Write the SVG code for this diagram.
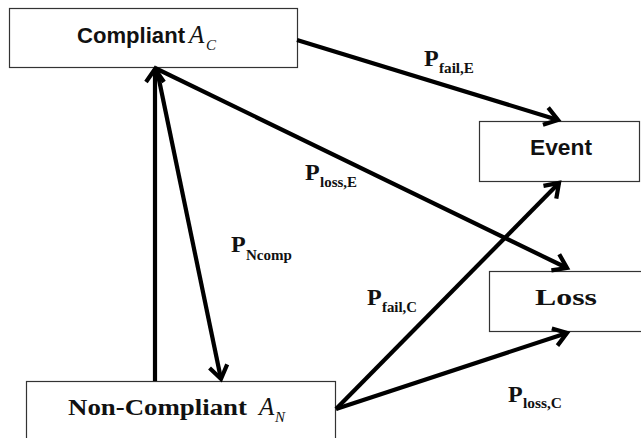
<svg xmlns="http://www.w3.org/2000/svg" width="641" height="438" viewBox="0 0 641 438">
  <defs>
    <marker id="head" viewBox="-18 -13 22 26" refX="0" refY="0" markerWidth="22" markerHeight="26" markerUnits="userSpaceOnUse" orient="auto">
      <path d="M-13,-9 L0,0 L-13,9" fill="none" stroke="#000" stroke-width="4.2" stroke-linejoin="miter"/>
    </marker>
    <style>
      .box { fill: #fff; stroke: #333; stroke-width: 1.2; }
      .edge { fill: none; stroke: #000; stroke-width: 4.2; marker-end: url(#head); }
      .sans { font-family: "Liberation Sans", Arial, sans-serif; font-weight: bold; font-size: 22px; fill: #111; }
      .serif { font-family: "Liberation Serif", "Times New Roman", serif; font-weight: bold; font-size: 24px; fill: #111; }
      .ital { font-family: "Liberation Serif", "Times New Roman", serif; font-style: italic; fill: #111; }
      .p { font-family: "Liberation Serif", "Times New Roman", serif; font-weight: bold; font-size: 24px; fill: #111; }
      .sub { font-family: "Liberation Serif", "Times New Roman", serif; font-weight: bold; font-size: 14px; fill: #111; }
    </style>
  </defs>

  <g id="compliant">
    <rect class="box" x="9.5" y="8.5" width="288" height="59"/>
    <text class="sans" x="77" y="43" textLength="108" lengthAdjust="spacingAndGlyphs">Compliant</text>
    <text class="ital" x="189" y="43" font-size="25">A</text>
    <text class="ital" x="206" y="50" font-size="15">C</text>
  </g>

  <g id="event">
    <rect class="box" x="479.5" y="121.5" width="160" height="60"/>
    <text class="sans" x="530" y="155" textLength="62" lengthAdjust="spacingAndGlyphs">Event</text>
  </g>

  <g id="loss">
    <rect class="box" x="489.5" y="271.5" width="160" height="60"/>
    <text class="serif" x="535" y="305" textLength="62" lengthAdjust="spacingAndGlyphs">Loss</text>
  </g>

  <g id="non-compliant">
    <rect class="box" x="26.5" y="381.5" width="309" height="70"/>
    <text class="serif" x="68" y="415" textLength="179" lengthAdjust="spacingAndGlyphs">Non-Compliant</text>
    <text class="ital" x="259" y="415" font-size="25">A</text>
    <text class="ital" x="275" y="422" font-size="15">N</text>
  </g>

  <g id="connectors">
    <line class="edge" x1="297" y1="40" x2="558" y2="120"/>
    <line class="edge" x1="155" y1="68" x2="567" y2="268"/>
    <line class="edge" x1="155" y1="381" x2="155" y2="69"/>
    <line class="edge" x1="157" y1="70" x2="221" y2="379"/>
    <line class="edge" x1="336" y1="409" x2="559" y2="183"/>
    <line class="edge" x1="336" y1="409" x2="567" y2="333"/>
  </g>

  <g id="labels">
    <text class="p" x="424" y="66">P</text>
    <text class="sub" x="439" y="73" textLength="35" lengthAdjust="spacingAndGlyphs">fail,E</text>

    <text class="p" x="305" y="180">P</text>
    <text class="sub" x="320" y="187" textLength="37" lengthAdjust="spacingAndGlyphs">loss,E</text>

    <text class="p" x="231" y="252">P</text>
    <text class="sub" x="246" y="260" textLength="46" lengthAdjust="spacingAndGlyphs">Ncomp</text>

    <text class="p" x="367" y="305">P</text>
    <text class="sub" x="382" y="312" textLength="35" lengthAdjust="spacingAndGlyphs">fail,C</text>

    <text class="p" x="508" y="402">P</text>
    <text class="sub" x="523" y="408" textLength="39" lengthAdjust="spacingAndGlyphs">loss,C</text>
  </g>
</svg>
